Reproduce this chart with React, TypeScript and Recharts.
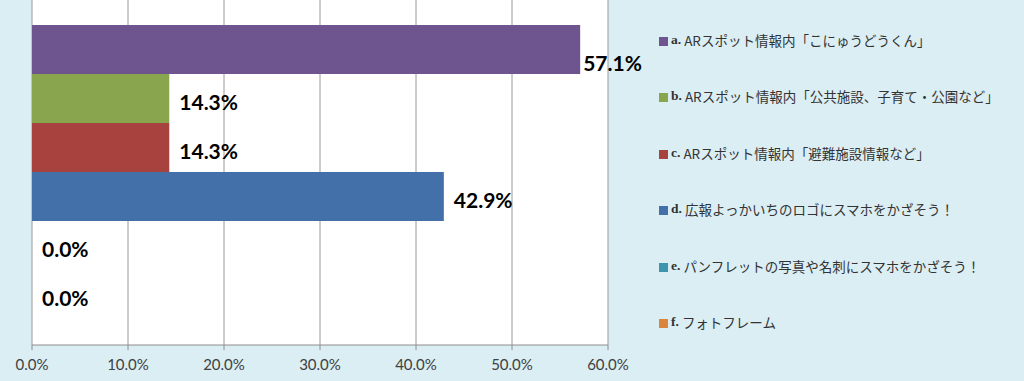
import React from "react";
import { BarChart, Bar, XAxis, YAxis, CartesianGrid, LabelList, Legend, Rectangle } from "recharts";

const seriesNames = [
  "ARスポット情報内「こにゅうどうくん」",
  "ARスポット情報内「公共施設、子育て・公園など」",
  "ARスポット情報内「避難施設情報など」",
  "広報よっかいちのロゴにスマホをかざそう！",
  "パンフレットの写真や名刺にスマホをかざそう！",
  "フォトフレーム",
];
const seriesLetters = ["a.", "b.", "c.", "d.", "e.", "f."];
const seriesValues = [0.571, 0.143, 0.143, 0.429, 0, 0];
const seriesColors = ["#6f5590", "#89a54e", "#a8423f", "#4470a9", "#3d96ae", "#db843d"];
const xTicks = [0, 0.1, 0.2, 0.3, 0.4, 0.5, 0.6];

const row: Record<string, number | string> = { name: "all" };
seriesValues.forEach((v, i) => {
  row["s" + i] = v;
});
const data = [row];

const pct = (v: number) => (v * 100).toFixed(1) + "%";

const LegendBox = () => (
  <div style={{ position: "absolute", left: 659, top: 30, width: 365 }}>
    {seriesNames.map((n, i) => (
      <div
        key={n}
        style={{
          height: 56.4,
          display: "flex",
          alignItems: "flex-start",
          fontSize: 13.5,
          color: "#333",
          fontFamily: "'Noto Sans CJK JP', sans-serif",
          lineHeight: "20px",
          whiteSpace: "nowrap",
        }}
      >
        <span
          style={{
            display: "inline-block",
            width: 9,
            height: 9,
            background: seriesColors[i],
            marginTop: 7,
            marginRight: 3,
          }}
        />
        <span style={{ fontFamily: "'Liberation Serif', serif", fontWeight: "bold", marginRight: 3 }}>
          {seriesLetters[i]}
        </span>
        <span>{n}</span>
      </div>
    ))}
  </div>
);

// hide the 1px stub that minPointSize gives zero values
const BarShape = (props: any) => (props.value > 0 ? <Rectangle {...props} /> : <g />);

const makeLabel = (i: number) => (props: any) => {
  const { x, y, width, height, value } = props;
  const gap = i === 0 ? 3 : 10;
  const dy = i === 0 ? 13 : 3;
  const w = Number(value) > 0 ? Number(width || 0) : 0;
  return (
    <text
      x={Number(x) + w + gap}
      y={Number(y) + Number(height) / 2 + dy}
      dominantBaseline="central"
      fill="#000"
      fontSize={21}
      fontWeight="bold"
      fontFamily="Lato"
    >
      {pct(Number(value))}
    </text>
  );
};

const App = () => {
  return (
    <div style={{ position: "fixed", left: 0, top: 0, width: 1024, height: 381, background: "#dbeef4" }}>
      <BarChart
        width={1024}
        height={381}
        data={data}
        layout="vertical"
        margin={{ top: 0, right: 416, left: 32, bottom: 0 }}
        barCategoryGap={25}
        barGap={0}
      >
        <CartesianGrid horizontal={false} stroke="#9a9a9a" fill="#ffffff" />
        <XAxis
          type="number"
          domain={[0, 0.6]}
          ticks={xTicks}
          tickFormatter={pct}
          height={36}
          stroke="#8c8c8c"
          tickSize={5}
          tick={{ fill: "#404040", fontSize: 15, fontFamily: "Lato" }}
          tickMargin={9}
        />
        <YAxis type="category" dataKey="name" hide width={0} />
        {seriesValues.map((_, i) => (
          <Bar
            key={i}
            dataKey={"s" + i}
            fill={seriesColors[i]}
            minPointSize={1}
            shape={BarShape}
            isAnimationActive={false}
          >
            <LabelList dataKey={"s" + i} content={makeLabel(i)} />
          </Bar>
        ))}
        <Legend content={() => null} />
      </BarChart>
      <LegendBox />
    </div>
  );
};

export default App;
